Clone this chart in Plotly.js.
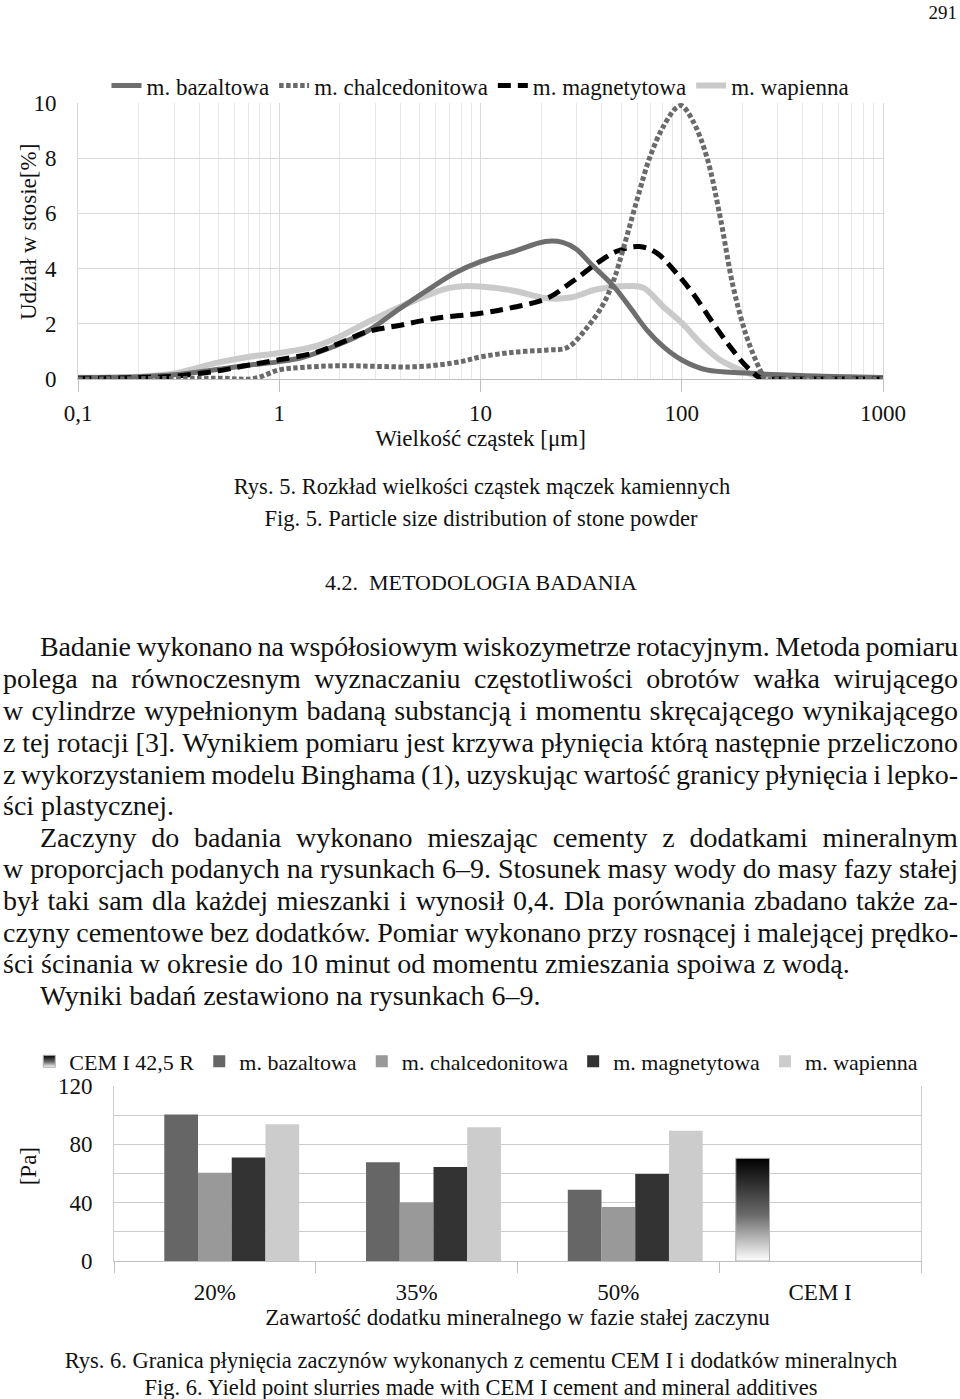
<!DOCTYPE html>
<html><head><meta charset="utf-8">
<script src="https://cdn.plot.ly/plotly-3.0.1.min.js"></script>
<style>
html,body{margin:0;padding:0;background:#fff;}
#page{position:relative;width:960px;height:1399px;overflow:hidden;font-family:'Liberation Serif','Times New Roman',serif;color:#111;}
#chart1{position:absolute;left:0;top:0;width:960px;height:460px;}
#chart2{position:absolute;left:0;top:1040px;width:960px;height:300px;}
.ln{position:absolute;white-space:pre;line-height:1;}
.jl{display:flex;justify-content:space-between;align-items:baseline;}
</style></head><body><div id="page"><div id="chart1"></div><div id="chart2"></div></div>
<script>
// ---------- Chart 1: particle size distribution ----------
const seriesNames1 = ['m. bazaltowa','m. chalcedonitowa','m. magnetytowa','m. wapienna'];
const xTickVals = [0.1, 1, 10, 100, 1000];
const xTickText = ['0,1','1','10','100','1000'];

const bazX = [0.1,0.2,0.3,0.5,0.7,1,1.3,1.85,2.72,4,5.8,7.5,10,14.6,21,25.6,30,35,46,55.6,67,81,100,133,210,308,500,1000];
const bazY = [0.05,0.08,0.15,0.35,0.5,0.63,0.78,1.17,1.72,2.57,3.35,3.85,4.25,4.62,4.98,4.95,4.7,4.2,3.35,2.57,1.78,1.17,0.69,0.33,0.22,0.15,0.1,0.05];

const chalX = [0.1,0.3,0.5,0.75,1,1.3,2,5,8,10,14.6,21.5,27,33.9,41,46,51.6,60,69.6,81,94,100,113.6,133,155,180,210,245,260,300,1000];
const chalY = [0.0,0.02,0.03,0.02,0.33,0.42,0.48,0.45,0.63,0.8,0.97,1.05,1.14,1.87,2.75,3.6,4.8,6.5,8.06,9.15,9.83,9.9,9.35,8.06,5.89,3.35,1.54,0.33,0.0,0.0,0.0];

const magX = [0.1,0.2,0.3,0.5,0.7,1,1.5,2,2.7,4,6,10,14.6,21.5,28.6,38,47.6,61.6,75,94,113.6,143,174,210,252,300,1000];
const magY = [0.02,0.05,0.1,0.3,0.5,0.7,0.95,1.3,1.7,1.95,2.2,2.38,2.6,2.93,3.53,4.2,4.63,4.8,4.57,3.84,3.1,2.03,1.17,0.45,0.0,0.0,0.0];

const wapX = [0.1,0.2,0.3,0.5,0.7,1,1.5,2,2.7,4,5.5,7,8.5,10,14.6,21,27.9,38,55.6,64.6,81,100,124,155,196,226,300,1000];
const wapY = [0.05,0.08,0.2,0.6,0.8,0.94,1.18,1.54,2.03,2.62,3.05,3.3,3.37,3.35,3.2,2.93,2.95,3.25,3.37,3.3,2.62,2.03,1.3,0.69,0.33,0.15,0.03,0.0];

const traces1 = [
  {x:wapX,y:wapY,name:seriesNames1[3],legendrank:4,line:{color:'#cacaca',width:6,shape:'spline',smoothing:1}},
  {x:bazX,y:bazY,name:seriesNames1[0],legendrank:1,line:{color:'#6e6e6e',width:5,shape:'spline',smoothing:1}},
  {x:magX,y:magY,name:seriesNames1[2],legendrank:3,line:{color:'#000000',width:5,dash:'13px,7px',shape:'spline',smoothing:1}},
  {x:chalX,y:chalY,name:seriesNames1[1],legendrank:2,line:{color:'#6a6a6a',width:5,dash:'4.5px,2.5px',shape:'spline',smoothing:1}}
].map(t=>Object.assign({type:'scatter',mode:'lines',hoverinfo:'skip'},t));

const F = 'Liberation Serif, Times New Roman, serif';
const layout1 = {
  width:960,height:460,
  margin:{l:78,r:77,t:103,b:81,autoexpand:false},
  paper_bgcolor:'rgba(0,0,0,0)',plot_bgcolor:'rgba(0,0,0,0)',
  font:{family:F,size:23,color:'#111'},
  showlegend:true,
  legend:{orientation:'h',x:0.5,xanchor:'center',y:0.985,yanchor:'bottom',itemwidth:30,bgcolor:'rgba(0,0,0,0)',font:{size:23}},
  xaxis:{type:'log',range:[-1,3],tickmode:'array',tickvals:xTickVals,ticktext:xTickText,
    ticks:'outside',ticklen:12,tickcolor:'#bfbfbf',tickwidth:1,showgrid:true,gridcolor:'#d9d9d9',
    showline:true,linecolor:'#bfbfbf',linewidth:1,zeroline:false,ticklabelstandoff:1,
    minor:{dtick:'D1',showgrid:true,gridcolor:'#e8e8e8',ticks:''},
    title:{text:'Wielkość cząstek [μm]',standoff:0,font:{size:23}}},
  yaxis:{range:[0,10],dtick:2,showgrid:true,gridcolor:'#d9d9d9',showline:true,mirror:true,linecolor:'#d9d9d9',
    zeroline:false,ticks:'',ticklabelstandoff:16},
  annotations:[{text:'Udział w stosie[%]',textangle:-90,xref:'paper',yref:'paper',
    x:(28-78)/805,y:(379-232)/276,xanchor:'center',yanchor:'middle',showarrow:false,font:{size:23}}]
};
Plotly.newPlot('chart1',traces1,layout1,{staticPlot:true,displayModeBar:false});

// ---------- Chart 2: yield point ----------
const cats = ['20%','35%','50%','CEM I'];
const seriesNames2 = ['CEM I 42,5 R','m. bazaltowa','m. chalcedonitowa','m. magnetytowa','m. wapienna'];
const cemVals  = [null,null,null,70.4];
const bazVals  = [100.4,67.7,48.9,null];
const chalVals = [60.6,40.2,37.0,null];
const magVals  = [70.9,64.5,59.7,null];
const wapVals  = [93.7,91.7,89.4,null];
const barColors = ['#555555','#666666','#999999','#333333','#cccccc'];
const barVals = [cemVals,bazVals,chalVals,magVals,wapVals];

const traces2 = barVals.map((v,i)=>({type:'bar',x:cats,y:v,name:seriesNames2[i],hoverinfo:'skip',
  marker:{color:barColors[i],line:{width:i===0?1:0,color:'#b0b0b0'}}}));

const layout2 = {
  width:960,height:300,
  margin:{l:114,r:39,t:46,b:79,autoexpand:false},
  paper_bgcolor:'rgba(0,0,0,0)',plot_bgcolor:'rgba(0,0,0,0)',
  font:{family:F,size:23,color:'#111'},
  barmode:'group',bargap:0.164,bargroupgap:0,
  showlegend:true,
  legend:{orientation:'h',x:-0.105,xanchor:'left',y:1.02,yanchor:'bottom',itemwidth:30,
    bgcolor:'rgba(0,0,0,0)',font:{size:22}},
  xaxis:{type:'category',ticks:'outside',tickson:'boundaries',ticklen:11,tickcolor:'#bfbfbf',
    showline:true,linecolor:'#bfbfbf',showgrid:false,zeroline:false,ticklabelstandoff:10,
    title:{text:'Zawartość dodatku mineralnego w fazie stałej zaczynu',standoff:0,font:{size:23}}},
  yaxis:{range:[0,120],tickmode:'array',tickvals:[0,40,80,120],showgrid:true,gridcolor:'#cccccc',
    minor:{dtick:20,showgrid:true,gridcolor:'#cccccc',ticks:''},
    showline:true,mirror:true,linecolor:'#cccccc',zeroline:false,ticks:'',ticklabelstandoff:16},
  annotations:[{text:'[Pa]',textangle:-90,xref:'paper',yref:'paper',
    x:(28-114)/807,y:(1260.7-1166)/175,xanchor:'center',yanchor:'middle',showarrow:false,font:{size:23}}]
};
Plotly.newPlot('chart2',traces2,layout2,{staticPlot:true,displayModeBar:false}).then(gd=>{
  const svg = gd.querySelector('svg.main-svg');
  const ns='http://www.w3.org/2000/svg';
  let defs = svg.querySelector('defs');
  if(!defs){defs=document.createElementNS(ns,'defs');svg.insertBefore(defs,svg.firstChild);}
  const lg=document.createElementNS(ns,'linearGradient');
  lg.setAttribute('id','cemGrad');lg.setAttribute('x1','0');lg.setAttribute('y1','0');lg.setAttribute('x2','0');lg.setAttribute('y2','1');
  [['0','#000000'],['0.55','#6a6a6a'],['1','#ffffff']].forEach(s=>{const st=document.createElementNS(ns,'stop');st.setAttribute('offset',s[0]);st.setAttribute('stop-color',s[1]);lg.appendChild(st);});
  defs.appendChild(lg);
  const barTraces = gd.querySelectorAll('.barlayer .trace');
  if(barTraces.length){barTraces[0].querySelectorAll('path').forEach(p=>{p.style.fill='url(#cemGrad)';});}
  const legTraces = gd.querySelectorAll('.legend .traces');
  if(legTraces.length){legTraces[0].querySelectorAll('.legendpoints path').forEach(p=>{p.style.fill='url(#cemGrad)';});}
});

// ---------- Page text ----------
const page = document.getElementById('page');
function addLine(o){
  const fs=o.fs, d=document.createElement('div');
  d.className='ln'+(o.j?' jl':'');
  d.style.fontSize=fs+'px';
  d.style.height=fs+'px';
  d.style.top=(o.b-0.8375*fs)+'px';
  if(o.c!==undefined){d.style.left=(o.c-480)+'px';d.style.width='960px';d.style.textAlign='center';d.textContent=o.t;page.appendChild(d);}
  else if(o.r!==undefined){d.style.right=(960-o.r)+'px';d.textContent=o.t;page.appendChild(d);}
  else{
    d.style.left=o.x+'px';
    if(o.j){
      const W=958-o.x;
      d.style.width=W+'px';
      const words=o.t.split(' ');
      words.forEach(w=>{const s=document.createElement('span');s.textContent=w;d.appendChild(s);});
      page.appendChild(d);
      let sum=0;d.querySelectorAll('span').forEach(s=>{sum+=s.getBoundingClientRect().width;});
      const minGap=0.2*fs, need=sum+minGap*(words.length-1);
      if(need>W){const chars=o.t.replace(/ /g,'').length;d.style.letterSpacing=(-(need-W)/chars)+'px';}
    } else {d.textContent=o.t;page.appendChild(d);}
  }
}
const PF=28, CF=22.5;
[
 {t:'291',b:19,r:957,fs:19},
 {t:'Rys. 5. Rozkład wielkości cząstek mączek kamiennych',b:495,c:482,fs:CF},
 {t:'Fig. 5. Particle size distribution of stone powder',b:527,c:481,fs:CF},
 {t:'4.2.  METODOLOGIA BADANIA',b:590,c:481,fs:22},
 {t:'Badanie wykonano na współosiowym wiskozymetrze rotacyjnym. Metoda pomiaru',b:656,x:40,j:true,fs:PF},
 {t:'polega na równoczesnym wyznaczaniu częstotliwości obrotów wałka wirującego',b:688,x:3,j:true,fs:PF},
 {t:'w cylindrze wypełnionym badaną substancją i momentu skręcającego wynikającego',b:720,x:3,j:true,fs:PF},
 {t:'z tej rotacji [3]. Wynikiem pomiaru jest krzywa płynięcia którą następnie przeliczono',b:752,x:3,j:true,fs:PF},
 {t:'z wykorzystaniem modelu Binghama (1), uzyskując wartość granicy płynięcia i lepko-',b:784,x:3,j:true,fs:PF},
 {t:'ści plastycznej.',b:815,x:3,fs:PF},
 {t:'Zaczyny do badania wykonano mieszając cementy z dodatkami mineralnym',b:847,x:40,j:true,fs:PF},
 {t:'w proporcjach podanych na rysunkach 6–9. Stosunek masy wody do masy fazy stałej',b:878,x:3,j:true,fs:PF},
 {t:'był taki sam dla każdej mieszanki i wynosił 0,4. Dla porównania zbadano także za-',b:910,x:3,j:true,fs:PF},
 {t:'czyny cementowe bez dodatków. Pomiar wykonano przy rosnącej i malejącej prędko-',b:942,x:3,j:true,fs:PF},
 {t:'ści ścinania w okresie do 10 minut od momentu zmieszania spoiwa z wodą.',b:973,x:3,fs:PF},
 {t:'Wyniki badań zestawiono na rysunkach 6–9.',b:1005,x:40,fs:PF},
 {t:'Rys. 6. Granica płynięcia zaczynów wykonanych z cementu CEM I i dodatków mineralnych',b:1369,c:481,fs:CF},
 {t:'Fig. 6. Yield point slurries made with CEM I cement and mineral additives',b:1396,c:481,fs:CF}
].forEach(addLine);
</script></body></html>
